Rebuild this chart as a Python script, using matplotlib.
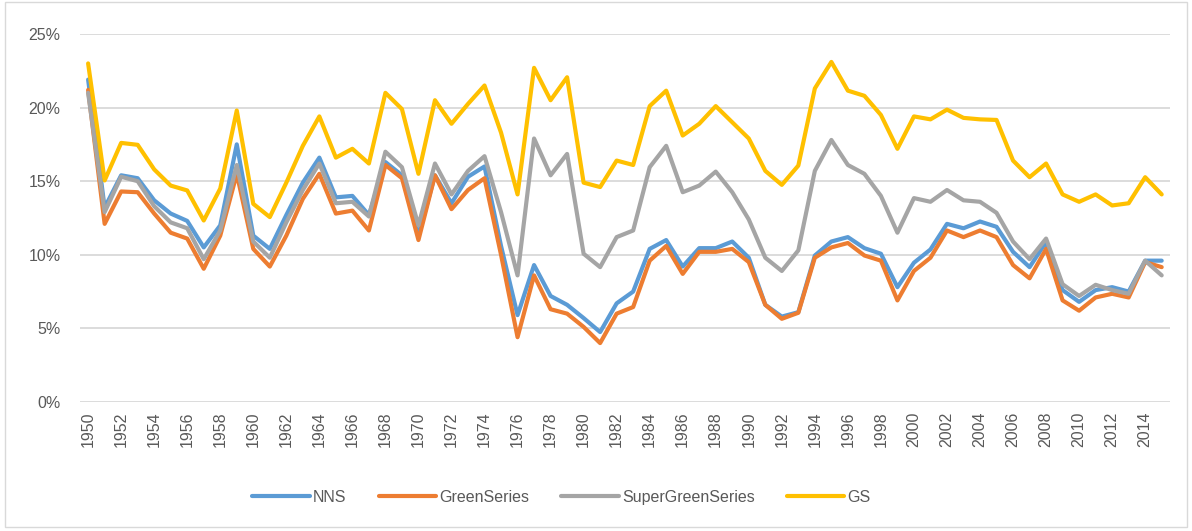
import numpy as np
import matplotlib.pyplot as plt
from matplotlib.patches import Rectangle
from matplotlib.ticker import PercentFormatter

plt.rcParams['font.family'] = ['Liberation Sans', 'DejaVu Sans']

years = list(range(1950, 2016))

# values in percent
nns = [21.9, 13.2, 15.4, 15.2, 13.7, 12.8, 12.3, 10.5, 12.0, 17.5,
       11.3, 10.4, 12.7, 14.9, 16.6, 13.9, 14.0, 12.7, 16.3, 15.4,
       11.3, 15.4, 13.5, 15.3, 16.0, 10.6, 5.9, 9.3, 7.2, 6.6,
       5.7, 4.75, 6.7, 7.5, 10.4, 11.0, 9.2, 10.45, 10.45, 10.9,
       9.8, 6.6, 5.8, 6.1, 9.95, 10.9, 11.2, 10.45, 10.07, 7.8,
       9.46, 10.36, 12.1, 11.8, 12.26, 11.9, 10.2, 9.16, 10.86, 7.6,
       6.8, 7.6, 7.8, 7.5, 9.6, 9.6]
green = [21.2, 12.1, 14.3, 14.25, 12.8, 11.5, 11.1, 9.05, 11.3, 15.5,
         10.4, 9.2, 11.3, 13.8, 15.5, 12.8, 13.0, 11.65, 16.1, 15.2,
         11.0, 15.4, 13.1, 14.4, 15.2, 10.0, 4.4, 8.6, 6.3, 6.0,
         5.1, 4.0, 6.0, 6.45, 9.6, 10.6, 8.7, 10.2, 10.2, 10.4,
         9.5, 6.6, 5.65, 6.06, 9.8, 10.5, 10.8, 9.95, 9.6, 6.9,
         8.9, 9.8, 11.65, 11.2, 11.65, 11.2, 9.3, 8.4, 10.4, 6.9,
         6.2, 7.1, 7.35, 7.1, 9.5, 9.16]
super_green = [21.0, 12.9, 15.3, 15.0, 13.3, 12.2, 11.8, 9.7, 11.65, 16.1,
               10.9, 9.8, 12.2, 14.4, 16.2, 13.5, 13.6, 12.6, 17.0, 15.95,
               12.0, 16.2, 14.1, 15.7, 16.7, 12.9, 8.6, 17.9, 15.4, 16.85,
               10.07, 9.16, 11.2, 11.65, 15.95, 17.4, 14.25, 14.7, 15.65, 14.25,
               12.4, 9.8, 8.9, 10.3, 15.7, 17.8, 16.1, 15.5, 14.0, 11.5,
               13.85, 13.6, 14.4, 13.7, 13.6, 12.85, 10.9, 9.7, 11.1, 8.0,
               7.2, 7.96, 7.6, 7.35, 9.6, 8.6]
gs = [23.0, 15.05, 17.6, 17.47, 15.8, 14.7, 14.37, 12.33, 14.5, 19.8,
      13.46, 12.56, 14.9, 17.4, 19.4, 16.6, 17.2, 16.2, 21.0, 19.9,
      15.5, 20.5, 18.9, 20.25, 21.5, 18.3, 14.1, 22.7, 20.5, 22.06,
      14.9, 14.6, 16.4, 16.1, 20.1, 21.15, 18.1, 18.9, 20.1, 19.0,
      17.9, 15.7, 14.75, 16.06, 21.3, 23.1, 21.15, 20.8, 19.5, 17.2,
      19.4, 19.2, 19.86, 19.3, 19.2, 19.16, 16.4, 15.27, 16.2, 14.1,
      13.6, 14.1, 13.35, 13.5, 15.27, 14.1]

names = ['NNS', 'GreenSeries', 'SuperGreenSeries', 'GS']
colors = ['#5B9BD5', '#ED7D31', '#A5A5A5', '#FFC000']

fig = plt.figure(figsize=(11.92, 5.31), dpi=100)
ax = fig.add_axes([0.067, 0.243, 0.9145, 0.693])

for vals, name, c in zip([nns, green, super_green, gs], names, colors):
    ax.plot(years, np.array(vals) / 100, color=c, lw=3.0, label=name,
            solid_joinstyle='round', solid_capstyle='round')

ax.set_xlim(1949.5, 2015.5)
ax.set_ylim(0, 0.25)
ax.set_yticks([0, 0.05, 0.10, 0.15, 0.20, 0.25])
ax.yaxis.set_major_formatter(PercentFormatter(1.0, decimals=0))
ax.set_xticks(years[::2])
ax.set_xticklabels([str(y) for y in years[::2]], rotation=90)
ax.grid(axis='y', color='#D9D9D9', lw=1.3)
ax.set_axisbelow(True)
for s in ax.spines.values():
    s.set_visible(False)
ax.tick_params(axis='both', length=0, labelsize=11.5, colors='#595959')
ax.tick_params(axis='y', pad=14)
ax.tick_params(axis='x', pad=7)

fig.legend(loc='center', bbox_to_anchor=(0.471, 0.064), ncol=4, frameon=False,
           fontsize=11.5, handlelength=3.6, handletextpad=0.2, columnspacing=2.0,
           labelcolor='#595959')

fig.patches.append(Rectangle((0.004, 0.008), 0.992, 0.988, transform=fig.transFigure,
                             fill=False, edgecolor='#D9D9D9', lw=1))

fig.savefig('out.png', dpi=100, facecolor='white')
